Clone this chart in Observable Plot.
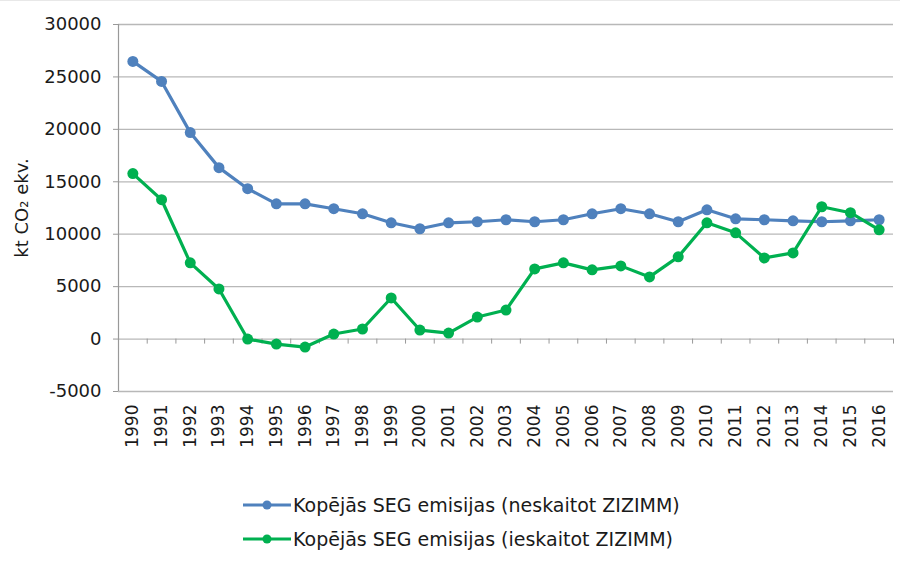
<!DOCTYPE html>
<html>
<head>
<meta charset="utf-8">
<script src="https://cdn.jsdelivr.net/npm/d3@7"></script>
<script src="https://cdn.jsdelivr.net/npm/@observablehq/plot@0.6"></script>
<style>
  body { margin: 0; background: #fff; font-family: "DejaVu Sans", sans-serif; }
  #chart { width: 900px; border-top: 1px solid #e8e8e8; }
  .legend { margin-top: 18px; margin-left: 243px; font-family: "DejaVu Sans", sans-serif; font-size: 19px; color: #1a1a1a; }
  .legend .item { display: flex; align-items: center; height: 34px; }
  .legend svg { margin-right: 2px; }
</style>
</head>
<body>
<div id="chart"></div>
<script>
const years = [1990,1991,1992,1993,1994,1995,1996,1997,1998,1999,2000,2001,2002,2003,2004,2005,2006,2007,2008,2009,2010,2011,2012,2013,2014,2015,2016];
const totalExcl = [26480,24570,19690,16350,14340,12900,12900,12430,11950,11090,10520,11090,11190,11380,11190,11380,11950,12430,11950,11190,12330,11470,11380,11280,11190,11280,11380];
const totalIncl = [15780,13290,7270,4780,0,-480,-760,480,960,3920,860,570,2100,2770,6690,7270,6600,6980,5930,7840,11090,10130,7740,8220,12620,12050,10420];
const seriesNames = ["Kopējās SEG emisijas (neskaitot ZIZIMM)", "Kopējās SEG emisijas (ieskaitot ZIZIMM)"];
const seriesColors = ["#4f81bd", "#00b050"];
const yTicks = [-5000,0,5000,10000,15000,20000,25000,30000];
const yLabel = "kt CO₂ ekv.";

const data = [];
years.forEach((y, i) => {
  data.push({year: y, value: totalExcl[i], series: seriesNames[0]});
  data.push({year: y, value: totalIncl[i], series: seriesNames[1]});
});
const boundaries = years.slice(0, -1).map(y => y + 0.5);

const chart = Plot.plot({
  width: 900,
  height: 469,
  marginTop: 23,
  marginBottom: 79,
  marginLeft: 118,
  marginRight: 7,
  style: {fontFamily: "DejaVu Sans, sans-serif", fontSize: "17px", color: "#1a1a1a"},
  x: {domain: [1989.5, 2016.5], axis: null},
  y: {domain: [-5000, 30000], axis: null},
  color: {domain: seriesNames, range: seriesColors},
  marks: [
    Plot.gridY(yTicks, {stroke: "#b8b8b8", strokeOpacity: 1, strokeWidth: 1.3}),
    Plot.axisY({ticks: yTicks, tickSize: 5, tickPadding: 12, stroke: "#999", fontSize: 18, label: yLabel, labelAnchor: "center", labelArrow: "none", labelOffset: 103, tickFormat: d => String(d)}),
    Plot.ruleX([1989.5], {stroke: "#999", strokeWidth: 1.2}),
    Plot.ruleX(boundaries.concat([2016.5]), {y1: 0, y2: -480, stroke: "#999"}),
    Plot.axisX({ticks: years, tickFormat: d => String(d), tickRotate: -90, tickSize: 0, tickPadding: 13, fontSize: 17, label: null}),
    Plot.line(data, {x: "year", y: "value", stroke: "series", strokeWidth: 3.2}),
    Plot.dot(data, {x: "year", y: "value", fill: "series", r: 5.5})
  ]
});
document.getElementById("chart").appendChild(chart);

const legend = document.createElement("div");
legend.className = "legend";
seriesNames.forEach((name, i) => {
  const item = document.createElement("div");
  item.className = "item";
  item.innerHTML = `<svg width="48" height="12"><line x1="0" y1="6" x2="48" y2="6" stroke="${seriesColors[i]}" stroke-width="3"/><circle cx="24" cy="6" r="4.5" fill="${seriesColors[i]}"/></svg><span>${name}</span>`;
  legend.appendChild(item);
});
document.getElementById("chart").appendChild(legend);
</script>
</body>
</html>
